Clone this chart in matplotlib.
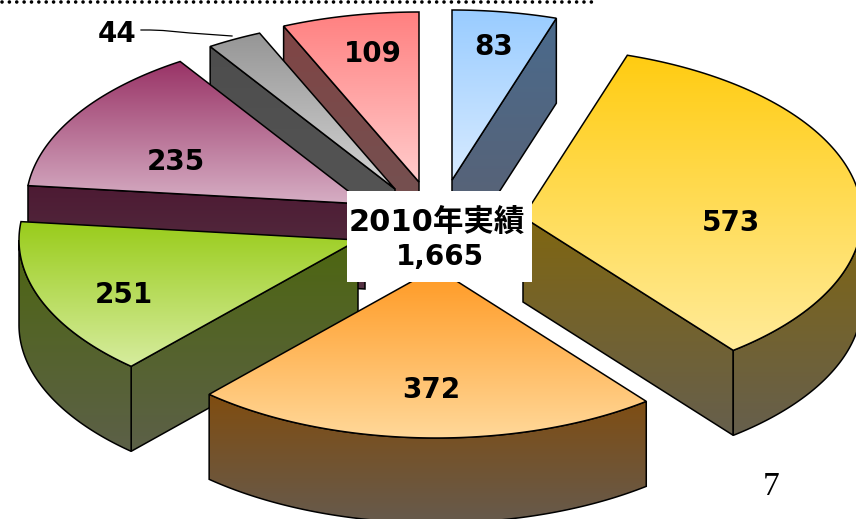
#!/usr/bin/env python3
"""Exploded 3D pie chart, 2010 results."""
import numpy as np
import matplotlib
matplotlib.use('Agg')
import matplotlib.pyplot as plt
from matplotlib.colors import to_rgb
from matplotlib.patches import Polygon, Rectangle

# data, clockwise from 12 o'clock
values = [83, 573, 372, 251, 235, 44, 109]
labels = ['83', '573', '372', '251', '235', '44', '109']
center_title = '2010年実績'
center_total = '1,665'
page_number = '7'

# look of the slices
top_colors = [('#99ccff', '#d8ebff'), ('#ffcc11', '#ffeb99'), ('#ff9922', '#ffd899'),
              ('#99cc1a', '#d6ec9e'), ('#993366', '#d6aec4'), ('#969696', '#d4d4d4'),
              ('#ff8080', '#ffcccc')]
side_colors = [('#4a6a8c', '#5c6070'), ('#806610', '#665f4d'), ('#804d10', '#665a4d'),
               ('#4d6610', '#5c6048'), ('#4d1a33', '#553344'), ('#4d4d4d', '#585858'),
               ('#804545', '#705555')]
# where the tip of each slice ends up after exploding
tip_x = [452, 523, 436, 358, 365, 395, 419]
tip_y = [180, 217, 268, 240, 204, 189, 182]
label_x = [494, 731, 431, 124, 176, 117, 373]
label_y = [47, 223, 390, 295, 162, 34, 54]
draw_order = [0, 6, 5, 4, 3, 1, 2]

RX, RY = 339, 170
DEPTH = 85
FONT = ['DejaVu Sans', 'Noto Sans CJK JP']


def rim(i, a):
    a = np.radians(a)
    return tip_x[i] + RX * np.sin(a), tip_y[i] - RY * np.cos(a)


def shaded(ax, pts, colors, z):
    # vertical gradient clipped to the face, then the black outline
    pts = np.asarray(pts)
    c0, c1 = to_rgb(colors[0]), to_rgb(colors[1])
    grad = np.linspace(c0, c1, 256).reshape(256, 1, 3)
    box = (pts[:, 0].min(), pts[:, 0].max(), pts[:, 1].max(), pts[:, 1].min())
    im = ax.imshow(grad, extent=box, aspect='auto', interpolation='bilinear', zorder=z)
    im.set_clip_path(Polygon(pts, transform=ax.transData))
    ax.add_patch(Polygon(pts, closed=True, fill=False, edgecolor='black',
                         linewidth=1.1, joinstyle='miter', zorder=z + 0.5))


def cut_face(i, a):
    x, y = rim(i, a)
    tx, ty = tip_x[i], tip_y[i]
    return [(tx, ty), (x, y), (x, y + DEPTH), (tx, ty + DEPTH)]


def draw_slice(ax, i, a1, a2, z):
    # cut faces seen from the front
    if np.sin(np.radians(a1)) < -1e-6:
        shaded(ax, cut_face(i, a1), side_colors[i], z)
    if np.sin(np.radians(a2)) > 1e-6:
        shaded(ax, cut_face(i, a2), side_colors[i], z + 1)
    # outer wall, front half only
    w1, w2 = max(a1, 90), min(a2, 270)
    if w2 > w1:
        xs, ys = rim(i, np.linspace(w1, w2, 120))
        wall = list(zip(xs, ys)) + list(zip(xs[::-1], ys[::-1] + DEPTH))
        shaded(ax, wall, side_colors[i], z + 2)
    # top
    xs, ys = rim(i, np.linspace(a1, a2, 120))
    top = [(tip_x[i], tip_y[i])] + list(zip(xs, ys))
    shaded(ax, top, top_colors[i], z + 3)


fig = plt.figure(figsize=(8.56, 5.19), dpi=100)
ax = fig.add_axes([0, 0, 1, 1])

edges = np.concatenate([[0], np.cumsum(values)]) / sum(values) * 360
z = 2
for i in draw_order:
    draw_slice(ax, i, edges[i], edges[i + 1], z)
    z += 4

ax.set_xlim(0, 856)
ax.set_ylim(519, 0)
ax.axis('off')

for i, lab in enumerate(labels):
    ax.text(label_x[i], label_y[i], lab, ha='center', va='center', fontsize=20,
            fontweight='bold', family=FONT, color='black', zorder=60)

# leader line of the small slice
lx = np.array([141, 150, 163, 190, 232])
ly = np.array([30, 30, 30.5, 33, 36])
ax.plot(lx, ly, color='black', linewidth=0.9, zorder=60)

# box in the middle
ax.add_patch(Rectangle((347, 191), 185, 91, facecolor='white', edgecolor='none', zorder=50))
ax.text(437, 222, center_title, ha='center', va='center', fontsize=22, fontweight='bold',
        family=FONT, zorder=60)
ax.text(440, 257, center_total, ha='center', va='center', fontsize=20, fontweight='bold',
        family=FONT, zorder=60)

# dotted rule along the top of the slide
ax.plot([2, 598], [1.5, 1.5], color='black', linewidth=2.6, dash_capstyle='round',
        dashes=(0.01, 2.03), zorder=60)
ax.text(771, 487, page_number, ha='center', va='center', fontsize=24,
        family='Liberation Serif', color='black', zorder=60)

fig.savefig('out.png', dpi=100)
